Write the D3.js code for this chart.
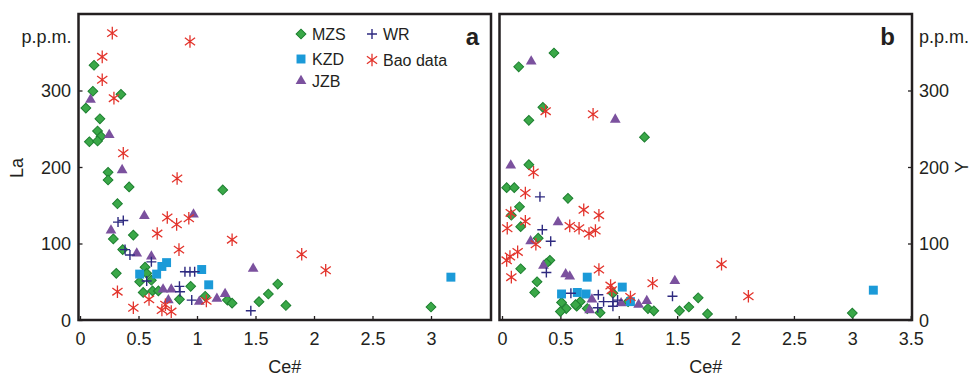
<!DOCTYPE html>
<html>
<head>
<meta charset="utf-8">
<script src="https://cdn.jsdelivr.net/npm/d3@7"></script>
<style>
  body { margin: 0; background: #fff; }
  svg { display: block; font-family: "Liberation Sans", Arial, sans-serif; }
</style>
</head>
<body>
<div id="chart"></div>
<script>
// each point is [Ce#, p.p.m.]
// panel a – La
const mzsLa = [[0.12,333],[0.11,299],[0.35,295],[0.05,277],[0.17,263],[0.15,247],[0.18,240],[0.08,233],
  [0.15,234],[0.24,193],[0.24,183],[0.42,174],[0.32,152],[1.22,170],[0.456,111],[0.285,106],[0.365,92],
  [0.31,61],[0.556,69],[0.57,61],[0.51,50],[0.61,52],[0.54,36],[0.62,38],[0.67,38],[0.946,44],[0.85,27],
  [1.07,31],[1.26,26],[1.30,22],[1.53,24],[1.61,34],[1.69,47],[1.76,19],[3.0,17]];
const kzdLa = [[0.51,60],[0.655,60],[0.70,70],[0.74,75],[1.04,66],[1.10,46],[3.17,56]];
const jzbLa = [[0.09,288],[0.25,242],[0.36,196],[0.55,136],[0.265,117],[0.485,87],[0.61,83],[0.97,138],
  [0.71,40],[0.78,40],[0.755,26],[1.02,24],[1.17,28],[1.24,34],[1.48,67]];
const wrLa = [[0.325,128],[0.37,130],[0.385,92],[0.427,85],[0.57,51],[0.61,76],[0.897,63],[0.94,63],
  [0.98,63],[0.85,44],[0.855,37],[0.955,26],[1.46,12]];
const baoLa = [[0.276,375],[0.94,364],[0.19,344],[0.19,314],[0.29,290],[0.37,218],[0.83,185],[0.746,134],
  [0.826,125],[0.93,133],[0.66,113],[1.30,105],[0.846,92],[0.32,37],[0.456,16],[0.59,27],[0.70,13],
  [0.73,20],[0.78,11],[1.08,25],[1.895,86],[2.10,65]];

// panel b – Y
const mzsY = [[0.445,349],[0.143,331],[0.35,278],[0.23,261],[1.22,239],[0.23,203],[0.04,173],[0.105,173],
  [0.565,159],[0.15,148],[0.08,137],[0.16,122],[0.31,107],[0.41,78],[0.38,74],[0.16,67],[0.30,50],
  [0.28,36],[0.51,23],[0.67,24],[0.64,18],[0.55,15],[0.50,11],[0.84,9.6],[0.73,15],[0.63,20],[0.95,35],
  [1.08,24],[1.25,15],[1.30,12],[1.52,12],[1.60,17],[1.68,29],[1.76,8],[3.0,9]];
const kzdY = [[0.51,34],[0.645,36],[0.72,34],[0.73,56],[1.03,43],[1.10,24],[3.18,39]];
const jzbY = [[0.25,338],[0.97,262],[0.075,202],[0.48,128],[0.245,103],[0.355,71],[0.545,60],[0.58,57],
  [0.77,27],[0.75,13],[1.02,22],[1.17,20],[1.24,25],[1.48,51]];
const wrY = [[0.325,161],[0.345,118],[0.417,103],[0.38,62],[0.59,35],[0.825,33],[0.87,24],[0.95,24],
  [0.99,26],[0.95,18],[0.82,16],[1.46,31]];
const baoY = [[0.374,273],[0.78,269],[0.27,193],[0.20,166],[0.075,140],[0.20,129],[0.045,120],[0.70,144],
  [0.83,137],[0.58,123],[0.66,120],[0.745,113],[0.80,117],[0.29,99],[0.134,89],[0.068,83],[0.04,78],
  [0.08,56],[0.83,66],[0.93,45],[0.94,39],[1.10,30],[1.29,48],[1.88,73],[2.11,31]];

const xTicksA = [0, 0.5, 1, 1.5, 2, 2.5, 3];
const xTicksB = [0, 0.5, 1, 1.5, 2, 2.5, 3, 3.5];
const yTicks = [0, 100, 200, 300];
const groups = ['MZS', 'KZD', 'JZB', 'WR', 'Bao data'];

const W = 972, H = 377;
const ink = '#231f20';

const style = {
  'MZS':      { fill: '#3aa848', stroke: '#1d7f30' },
  'KZD':      { fill: '#1b9ad8', stroke: 'none' },
  'JZB':      { fill: '#7b519e', stroke: 'none' },
  'WR':       { fill: 'none', stroke: '#2e2a80' },
  'Bao data': { fill: 'none', stroke: '#e3342c' }
};

function drawMarker(g, name) {
  const s = style[name];
  if (name === 'MZS') {
    g.append('path').attr('d', d3.symbol(d3.symbolSquare, 48)())
      .attr('transform', 'rotate(45)')
      .attr('fill', s.fill).attr('stroke', s.stroke).attr('stroke-width', 1);
  } else if (name === 'KZD') {
    g.append('path').attr('d', d3.symbol(d3.symbolSquare, 80)()).attr('fill', s.fill);
  } else if (name === 'JZB') {
    g.append('path').attr('d', d3.symbol(d3.symbolTriangle, 50)()).attr('fill', s.fill);
  } else if (name === 'WR') {
    g.append('path').attr('d', 'M-5,0H5M0,-5V5')
      .attr('stroke', s.stroke).attr('stroke-width', 1.4).attr('fill', 'none');
  } else {
    const r = 6.3, dx = r * Math.cos(Math.PI / 5), dy = r * Math.sin(Math.PI / 5);
    g.append('path')
      .attr('d', `M0,${-r}V${r}M${-dx},${-dy}L${dx},${dy}M${-dx},${dy}L${dx},${-dy}`)
      .attr('stroke', s.stroke).attr('stroke-width', 1.3).attr('fill', 'none');
  }
}

const svg = d3.select('#chart').append('svg')
  .attr('width', W).attr('height', H)
  .attr('viewBox', [0, 0, W, H].join(' '));

const y = d3.scaleLinear().domain([0, 400]).range([320, 14]);

const panels = [
  { key: 'a', frame: [78.5, 491], x: d3.scaleLinear().domain([0, 3.5]).range([80, 489.5]),
    xTicks: xTicksA, data: [mzsLa, kzdLa, jzbLa, wrLa, baoLa] },
  { key: 'b', frame: [499.5, 912], x: d3.scaleLinear().domain([0, 3.5]).range([502, 910.7]),
    xTicks: xTicksB, data: [mzsY, kzdY, jzbY, wrY, baoY] }
];

panels.forEach(p => {
  const g = svg.append('g');

  // x axis, ticks pointing inwards
  const xAxis = g.append('g').attr('transform', `translate(0,${y(0)})`)
    .call(d3.axisBottom(p.x).tickValues(p.xTicks).tickFormat(d3.format('')).tickSizeInner(-4).tickSizeOuter(0).tickPadding(12));
  xAxis.select('.domain').remove();
  xAxis.selectAll('line').attr('stroke', ink).attr('stroke-width', 1.3);
  xAxis.selectAll('text').attr('font-size', 18).attr('fill', ink);
  xAxis.attr('font-family', null);

  // y axis
  const yAxis = p.key === 'a'
    ? g.append('g').attr('transform', `translate(${p.frame[0]},0)`)
        .call(d3.axisLeft(y).tickValues(yTicks).tickSizeInner(-4).tickSizeOuter(0).tickPadding(7.5))
    : g.append('g').attr('transform', `translate(${p.frame[1]},0)`)
        .call(d3.axisRight(y).tickValues(yTicks).tickSizeInner(-4).tickSizeOuter(0).tickPadding(7));
  yAxis.select('.domain').remove();
  yAxis.selectAll('line').attr('stroke', ink).attr('stroke-width', 1.3);
  yAxis.selectAll('text').attr('font-size', 18).attr('fill', ink).attr('dy', '0.34em');
  yAxis.attr('font-family', null);

  // points
  p.data.forEach((pts, i) => {
    const name = groups[i];
    g.append('g').selectAll('g').data(pts).join('g')
      .attr('transform', d => `translate(${p.x(d[0])},${y(d[1])})`)
      .each(function () { drawMarker(d3.select(this), name); });
  });

  // frame
  g.append('rect')
    .attr('x', p.frame[0]).attr('y', 14)
    .attr('width', p.frame[1] - p.frame[0]).attr('height', y(0) - 14)
    .attr('fill', 'none').attr('stroke', ink).attr('stroke-width', 2.5);

  // panel letter
  g.append('text').attr('x', p.key === 'a' ? 479 : 895).attr('y', 45)
    .attr('text-anchor', 'end').attr('font-size', 24).attr('font-weight', 'bold').attr('fill', ink)
    .text(p.key);

  // x label
  g.append('text').attr('x', (p.frame[0] + p.frame[1]) / 2).attr('y', 373)
    .attr('text-anchor', 'middle').attr('font-size', 18).attr('fill', ink).text('Ce#');
});

// unit and y labels
svg.append('text').attr('x', 71.5).attr('y', 43).attr('text-anchor', 'end')
  .attr('font-size', 18).attr('fill', ink).text('p.p.m.');
svg.append('text').attr('x', 919).attr('y', 43)
  .attr('font-size', 18).attr('fill', ink).text('p.p.m.');
svg.append('text').attr('transform', 'translate(22.5,168) rotate(-90)').attr('text-anchor', 'middle')
  .attr('font-size', 18).attr('fill', ink).text('La');
svg.append('text').attr('transform', 'translate(968,167) rotate(-90)').attr('text-anchor', 'middle')
  .attr('font-size', 18).attr('fill', ink).text('Y');

// legend (panel a)
const legendPos = [[301, 34], [301, 59], [301, 81], [372, 34], [372, 60]];
const legend = svg.append('g');
groups.forEach((name, i) => {
  const [lx, ly] = legendPos[i];
  const item = legend.append('g').attr('transform', `translate(${lx},${ly})`);
  drawMarker(item, name);
  item.append('text').attr('x', 11).attr('y', 6).attr('font-size', 16).attr('fill', ink).text(name);
});
</script>
</body>
</html>
